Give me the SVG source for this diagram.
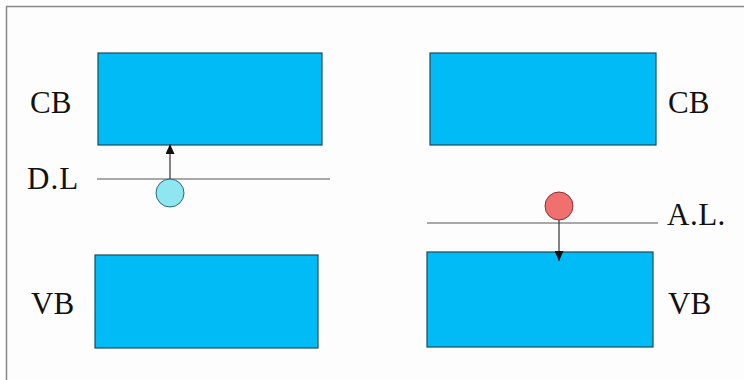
<svg xmlns="http://www.w3.org/2000/svg" width="744" height="380" viewBox="0 0 744 380">
<defs>
<style>
.band{fill:#00bbf5;stroke:#1a4a5a;stroke-width:1.2}
.lbl{font-family:"Liberation Serif",serif;font-size:31px;fill:#111}
.lvl{stroke:#555;stroke-width:1.2}
.arr{stroke:#333;stroke-width:1.2}
</style>
<marker id="ah" markerWidth="10" markerHeight="9" refX="10" refY="4.5" orient="auto" markerUnits="userSpaceOnUse" viewBox="0 0 10 9">
<path d="M0,0 L10,4.5 L0,9 Z" fill="#111"/>
</marker>
</defs>
<rect x="0" y="0" width="744" height="380" fill="#fff"/>
<rect x="6.5" y="6.5" width="740" height="380" fill="#fdfdfd" stroke="#888" stroke-width="1.5"/>
<g id="cb-left"><rect class="band" x="98" y="53" width="224" height="92"/></g>
<g id="cb-right"><rect class="band" x="430" y="53" width="226" height="92"/></g>
<g id="vb-left"><rect class="band" x="95" y="255" width="223" height="93"/></g>
<g id="vb-right"><rect class="band" x="427" y="252" width="226" height="95"/></g>
<g id="dl-line"><line class="lvl" x1="97" y1="179" x2="330" y2="179"/></g>
<g id="al-line"><line class="lvl" x1="427" y1="223" x2="658" y2="223"/></g>
<g id="connectors">
<line class="arr" x1="170" y1="180" x2="170" y2="144" marker-end="url(#ah)"/>
<line class="arr" x1="559" y1="220" x2="559" y2="261" marker-end="url(#ah)"/>
</g>
<g id="donor"><circle cx="170" cy="193" r="14" fill="#8ee6f0" stroke="#2a6a70" stroke-width="1"/></g>
<g id="acceptor"><circle cx="559" cy="206" r="14" fill="#f07070" stroke="#8a3030" stroke-width="1"/></g>
<g id="labels">
<text class="lbl" x="30" y="113">CB</text>
<text class="lbl" x="27" y="189" letter-spacing="1">D.L</text>
<text class="lbl" x="31" y="314">VB</text>
<text class="lbl" x="668" y="113">CB</text>
<text class="lbl" x="667" y="225" letter-spacing="0.5">A.L.</text>
<text class="lbl" x="668" y="314">VB</text>
</g>
</svg>
